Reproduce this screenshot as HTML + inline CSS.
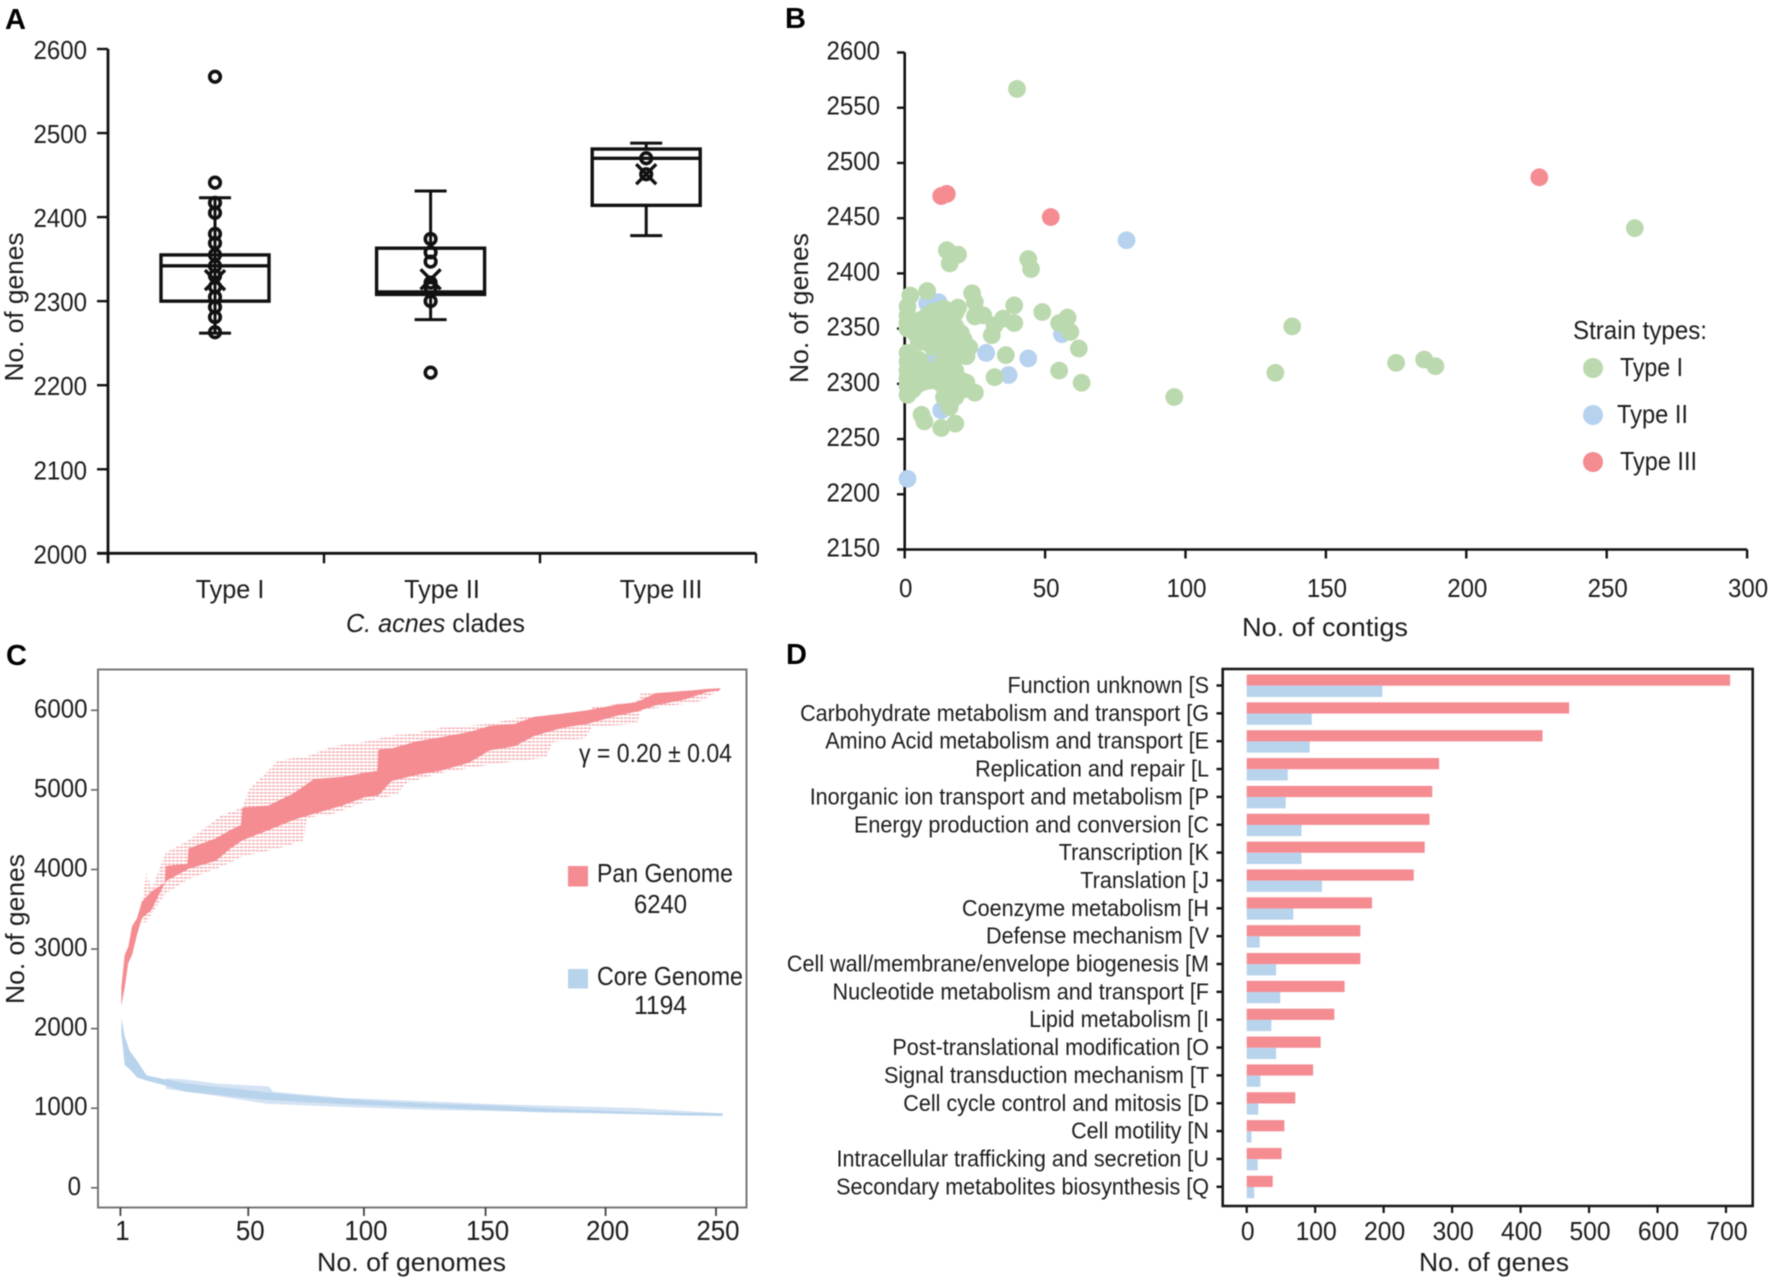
<!DOCTYPE html>
<html lang="en">
<head>
<meta charset="utf-8">
<title>C. acnes pan-genome figure</title>
<style>
html,body{margin:0;padding:0;background:#fff;width:1772px;height:1281px;overflow:hidden}
svg{display:block;font-family:"Liberation Sans",sans-serif;fill:#1c1c1c;filter:blur(0.4px)}
.t{font-size:26px}
.b{font-size:29px;font-weight:bold;fill:#000}
</style>
</head>
<body>
<svg id="fig" xmlns="http://www.w3.org/2000/svg" width="1772" height="1281" viewBox="0 0 1772 1281">
<defs>
<pattern id="panHatch" width="4" height="3.4" patternUnits="userSpaceOnUse">
<rect x="0" y="0" width="3" height="1.3" fill="#f39ea3"></rect>
</pattern>
</defs>
<rect width="1772" height="1281" fill="#fff"></rect>

<g id="panelA">
<text class="b" x="5" y="29">A</text>
<text class="t" transform="translate(23,307) rotate(-90)" text-anchor="middle" textLength="149" lengthAdjust="spacingAndGlyphs">No. of genes</text>
<text class="t" x="346" y="632" textLength="179" lengthAdjust="spacingAndGlyphs"><tspan font-style="italic">C. acnes</tspan> clades</text>
</g>

<g id="panelB">
<text class="b" x="785" y="28">B</text>
<text class="t" transform="translate(808,308) rotate(-90)" text-anchor="middle" textLength="150" lengthAdjust="spacingAndGlyphs">No. of genes</text>
<text class="t" x="1242" y="636" textLength="166" lengthAdjust="spacingAndGlyphs">No. of contigs</text>
<text class="t" x="1573" y="339" textLength="134" lengthAdjust="spacingAndGlyphs">Strain types:</text>
<circle cx="1593" cy="368" r="10" fill="#bbd9ae"></circle>
<text class="t" x="1620" y="376" textLength="63" lengthAdjust="spacingAndGlyphs">Type I</text>
<circle cx="1593" cy="415" r="10" fill="#b6d2ee"></circle>
<text class="t" x="1617" y="423" textLength="71" lengthAdjust="spacingAndGlyphs">Type II</text>
<circle cx="1593" cy="462" r="10" fill="#f48c92"></circle>
<text class="t" x="1620" y="470" textLength="77" lengthAdjust="spacingAndGlyphs">Type III</text>
</g>

<g id="panelC">
<text class="b" x="6" y="665">C</text>
<rect x="98" y="669.5" width="648.5" height="538" fill="none" stroke="#777" stroke-width="2"></rect>
<text class="t" transform="translate(24,929) rotate(-90)" text-anchor="middle" textLength="150" lengthAdjust="spacingAndGlyphs">No. of genes</text>
<text class="t" x="317" y="1271" textLength="189" lengthAdjust="spacingAndGlyphs">No. of genomes</text>
<text class="t" x="579" y="762" textLength="153" lengthAdjust="spacingAndGlyphs">γ = 0.20 ± 0.04</text>
<rect x="568" y="866" width="20" height="20.5" fill="#f48c92"></rect>
<text class="t" x="597" y="882" textLength="136" lengthAdjust="spacingAndGlyphs">Pan Genome</text>
<text class="t" x="634" y="913" textLength="53" lengthAdjust="spacingAndGlyphs">6240</text>
<rect x="568" y="969" width="20" height="19.5" fill="#b8d3ec"></rect>
<text class="t" x="597" y="985" textLength="146" lengthAdjust="spacingAndGlyphs">Core Genome</text>
<text class="t" x="634" y="1014" textLength="53" lengthAdjust="spacingAndGlyphs">1194</text>
</g>

<g id="panelD">
<text class="b" x="786" y="664">D</text>
<text class="t" x="1419" y="1271" textLength="150" lengthAdjust="spacingAndGlyphs">No. of genes</text>
</g>
</svg>

<script>
/* Panel A: box plot */
const aCategories = ['Type I', 'Type II', 'Type III'];
const aYTicks = [2000, 2100, 2200, 2300, 2400, 2500, 2600];
const aQ1 = [2300, 2308, 2414];
const aMedian = [2342, 2311, 2470];
const aQ3 = [2355, 2363, 2481];
const aWhiskerLow = [2262, 2278, 2378];
const aWhiskerHigh = [2423, 2431, 2488];
const aMean = [2325, 2326, 2451];
const aPointsType1 = [2567, 2441, 2417, 2405, 2380, 2369, 2355, 2342, 2330, 2317, 2305, 2293, 2281, 2263];
const aPointsType2 = [2374, 2358, 2347, 2322, 2316, 2300, 2215];
const aPointsType3 = [2470, 2451];

/* Panel B: scatter (contigs, genes) */
const bXTicks = [0, 50, 100, 150, 200, 250, 300];
const bYTicks = [2150, 2200, 2250, 2300, 2350, 2400, 2450, 2500, 2550, 2600];
const bType1 = [[40,2567],[260,2441],[138,2352],[132,2310],[96,2288],[175,2319],[185,2322],[189,2316],
[15,2421],[19,2417],[16,2409],[44,2413],[45,2404],[8,2384],[2,2380],[24,2382],[25,2374],[19,2369],[39,2371],[49,2365],[58,2360],[55,2355],[59,2347],[62,2332],[28,2362],[25,2361],[35,2359],[32,2353],[39,2355],[31,2344],[36,2326],[32,2306],[55,2312],[63,2301],[25,2292],[22,2301],[6,2272],[7,2266],[13,2260],[18,2264],[16,2279],
[1,2370],[1,2362],[1,2355],[1,2350],[4,2345],[5,2338],[4,2352],[6,2358],[8,2362],[10,2365],[12,2366],[14,2368],[16,2366],[18,2364],[6,2347],[8,2350],[10,2352],[12,2355],[14,2356],[16,2354],[18,2352],[7,2338],[9,2340],[11,2342],[13,2344],[15,2346],[17,2343],[19,2345],[20,2346],[21,2340],[22,2335],[23,2333],[10,2333],[12,2335],[14,2335],[16,2333],[18,2330],[19,2325],[22,2325],[15,2325],[13,2318],
[1,2328],[1,2320],[5,2322],[6,2318],[1,2312],[1,2305],[1,2298],[1,2290],[3,2310],[3,2302],[3,2295],[5,2308],[5,2300],[7,2310],[7,2302],[9,2310],[9,2303],[11,2312],[11,2305],[13,2315],[13,2308],[13,2300],[15,2312],[15,2304],[15,2296],[17,2308],[17,2300],[17,2292],[18,2312],[19,2305],[19,2297],[21,2302],[21,2295],[14,2288],[16,2285],[18,2288]];
const bType2 = [[79,2430],[29,2328],[44,2323],[37,2308],[56,2345],[13,2276],[1,2214],[12,2374],[8,2373],[10,2322]];
const bType3 = [[13,2470],[15,2472],[52,2451],[226,2487]];

/* Panel C: rarefaction bands */
const cYTicks = [0, 1000, 2000, 3000, 4000, 5000, 6000];
const cXTickAt = [1, 54.5, 102.9, 153.8, 204, 250.2];
const cXTickLabels = ['1', '50', '100', '150', '200', '250'];
const panHighN = [1.4,2.8,4.3,5.9,8,10,14,19.5,20,29,29.5,41,47,51.5,52,63,73.5,82,94,103,108.5,109,114.5,125,135,147,155.5,166,174,186,196.5,209,217,225,237.5,246,252];
const panHigh = [2517,2928,3031,3288,3390,3596,3724,3830,4043,4070,4264,4392,4495,4560,4777,4803,4957,5137,5163,5214,5240,5507,5522,5610,5661,5728,5805,5830,5918,5959,6000,6072,6103,6216,6241,6267,6277];
const panLowN = [1.4,2.8,4.3,5.9,8,10,14,20,29.5,41,47,52,63,73.5,82,94,103,109,114.5,125,135,147,155.5,166,174,186,196.5,209,217,225,237.5,246,252];
const panLow = [2286,2517,2825,2928,3185,3390,3493,3853,4007,4110,4264,4366,4495,4623,4700,4803,4906,4932,5111,5188,5240,5342,5497,5548,5676,5779,5830,5933,5984,6062,6139,6226,6257];
const panEnvN = [10,12,14,20,29.5,43,52,55,67,77.6,79,90,104,116.6,120.7,135,155.5,168,179,182,195.5,198.5,217,219,243.6,252];
const panEnvHigh = [3596,3955,3750,4212,4366,4675,4777,5009,5368,5420,5420,5548,5610,5692,5692,5779,5830,5908,5933,5933,5984,6036,6113,6216,6257,6277];
const panEnvLow = [3339,3339,3442,3699,3878,4033,4161,4187,4264,4366,4649,4700,4855,4942,5086,5214,5317,5368,5404,5600,5651,5795,5830,6000,6113,6257];
const coreN = [1.4,2.8,4.9,8,12,20,28.5,41,53,63,77.6,94,114.5,135,155.5,176,196.5,217,237.5,253];
const coreHigh = [2132,1901,1721,1592,1413,1361,1310,1269,1233,1197,1156,1120,1079,1053,1038,1002,976,950,940,935];
const coreLow = [1952,1541,1490,1387,1346,1284,1207,1171,1130,1104,1079,1053,1027,1002,976,950,940,925,909,904];
const coreEnvN = [20,28.5,41,63,65,94,135,155.5,217,253];
const coreEnvHigh = [1377,1361,1310,1274,1207,1130,1079,1053,1002,935];
const coreEnvLow = [1243,1207,1156,1053,1053,1017,976,966,925,904];

/* Panel D: functional categories */
const dCategories = ['Function unknown [S','Carbohydrate metabolism and transport [G','Amino Acid metabolism and transport [E','Replication and repair [L','Inorganic ion transport and metabolism [P','Energy production and conversion [C','Transcription [K','Translation [J','Coenzyme metabolism [H','Defense mechanism [V','Cell wall/membrane/envelope biogenesis [M','Nucleotide metabolism and transport [F','Lipid metabolism [I','Post-translational modification [O','Signal transduction mechanism [T','Cell cycle control and mitosis [D','Cell motility [N','Intracellular trafficking and secretion [U','Secondary metabolites biosynthesis [Q'];
const dPan = [706,471,432,281,271,267,260,244,183,166,166,143,128,108,97,71,55,51,38];
const dCore = [198,95,92,60,57,80,80,110,68,19,43,49,36,43,20,17,7,16,11];
const dXTicks = [0,100,200,300,400,500,600,700];

const NS = 'http://www.w3.org/2000/svg';
function mk(tag, attrs, parent, txt) {
  const el = document.createElementNS(NS, tag);
  for (const k in attrs) el.setAttribute(k, attrs[k]);
  if (txt !== undefined) el.textContent = txt;
  parent.appendChild(el);
  return el;
}
function condense(el, k) {
  const len = el.getComputedTextLength();
  el.setAttribute('textLength', (len * k).toFixed(1));
  el.setAttribute('lengthAdjust', 'spacingAndGlyphs');
}
const gA = document.getElementById('panelA');
const gB = document.getElementById('panelB');
const gC = document.getElementById('panelC');
const gD = document.getElementById('panelD');
const INK = '#111';

/* ---------- Panel A ---------- */
const ax = i => 215 + i * 215.6;
const ay = v => 553.3 - (v - 2000) * (504.3 / 600);
const aLabelX = [230, 442, 661];
{
  const yAxis = mk('line', {x1:108, x2:108, y1:ay(2600), y2:ay(2000)+10, stroke:INK, 'stroke-width':2.8}, gA);
  
  
  const xAxis = mk('line', {x1:97, x2:756, y1:ay(2000), y2:ay(2000), stroke:INK, 'stroke-width':2.8}, gA);
  
  
  aYTicks.forEach(v => {
    const tk = mk('line', {x1:97, x2:108, y1:ay(v), y2:ay(v), stroke:INK, 'stroke-width':2.4}, gA);
    
    
    const lb = mk('text', {class:'t', x:87, y:ay(v)+10, 'text-anchor':'end'}, gA, String(v));
    
    
    condense(lb, 0.925);
  });
  aCategories.forEach((c, i) => {
    const sep = mk('line', {x1:108+(i+1)*216, x2:108+(i+1)*216, y1:ay(2000), y2:ay(2000)+10, stroke:INK, 'stroke-width':2.4}, gA);
    
    
    const lb = mk('text', {class:'t', x:aLabelX[i], y:598, 'text-anchor':'middle'}, gA, c);
    
    
    condense(lb, 0.97);
    const cx = ax(i);
    const wh = mk('line', {x1:cx, x2:cx, y1:ay(aWhiskerHigh[i]), y2:ay(aWhiskerLow[i]), stroke:INK, 'stroke-width':3}, gA);
    
    
    [aWhiskerHigh[i], aWhiskerLow[i]].forEach(v => {
      const cap = mk('line', {x1:cx-16, x2:cx+16, y1:ay(v), y2:ay(v), stroke:INK, 'stroke-width':3}, gA);
      
      
    });
    const box = mk('rect', {x:cx-54, y:ay(aQ3[i]), width:108, height:ay(aQ1[i])-ay(aQ3[i]), fill:i===0?'none':'#fff', stroke:INK, 'stroke-width':3.4}, gA);
    
    
    const med = mk('line', {x1:cx-54, x2:cx+54, y1:ay(aMedian[i]), y2:ay(aMedian[i]), stroke:INK, 'stroke-width':3.4}, gA);
    
    
    const pts = [aPointsType1, aPointsType2, aPointsType3][i];
    pts.forEach(v => {
      const p = mk('circle', {cx:cx, cy:ay(v), r:5.3, fill:'none', stroke:INK, 'stroke-width':3.6}, gA);
      
      
    });
    const my = ay(aMean[i]);
    const m = mk('path', {d:`M${cx-10} ${my-10}L${cx+10} ${my+10}M${cx+10} ${my-10}L${cx-10} ${my+10}`, fill:'none', stroke:INK, 'stroke-width':3.4}, gA);
    
    
  });
}

/* ---------- Panel B ---------- */
const bx = v => 904.7 + v * 2.808;
const by = v => 549.5 - (v - 2150) * (497 / 450);
{
  bYTicks.forEach(v => {
    const tk = mk('line', {x1:897, x2:904.7, y1:by(v), y2:by(v), stroke:INK, 'stroke-width':2.4}, gB);
    
    
    const lb = mk('text', {class:'t', x:880, y:by(v)+7, 'text-anchor':'end'}, gB, String(v));
    
    
    condense(lb, 0.925);
  });
  bXTicks.forEach(v => {
    const tk = mk('line', {x1:bx(v), x2:bx(v), y1:by(2150), y2:by(2150)+9, stroke:INK, 'stroke-width':2.4}, gB);
    
    
    const lb = mk('text', {class:'t', x:bx(v)+1, y:597, 'text-anchor':'middle'}, gB, String(v));
    
    
    condense(lb, 0.925);
  });
  const yAxis = mk('line', {x1:904.7, x2:904.7, y1:by(2600), y2:by(2150), stroke:INK, 'stroke-width':2.6}, gB);
  
  
  const xAxis = mk('line', {x1:897, x2:bx(300), y1:by(2150), y2:by(2150), stroke:INK, 'stroke-width':2.6}, gB);
  
  
  bType2.forEach(d => {
    const c = mk('circle', {cx:bx(d[0]), cy:by(d[1]), r:8.9, fill:'#b6d2ee'}, gB);
    
    
  });
  bType1.forEach(d => {
    const c = mk('circle', {cx:bx(d[0]), cy:by(d[1]), r:8.9, fill:'#bbd9ae'}, gB);
    
    
  });
  bType3.forEach(d => {
    const c = mk('circle', {cx:bx(d[0]), cy:by(d[1]), r:8.9, fill:'#f48c92'}, gB);
    
    
  });
}

/* ---------- Panel C ---------- */
const cx = n => 120.4 + (n - 1) * 2.39;
const cy = v => 1187.8 - v * (477.5 / 6000);
function bandArea(nHi, hi, nLo, lo) {
  let d = `M${cx(nHi[0])} ${cy(hi[0])}`;
  for (let i = 1; i < nHi.length; i++) d += `L${cx(nHi[i])} ${cy(hi[i])}`;
  for (let i = nLo.length - 1; i >= 0; i--) d += `L${cx(nLo[i])} ${cy(lo[i])}`;
  return d + 'Z';
}
{
  cYTicks.forEach(v => {
    const tk = mk('line', {x1:91, x2:98, y1:cy(v), y2:cy(v), stroke:'#666', 'stroke-width':1.6}, gC);
    
    
    const lb = mk('text', {class:'t', x:v === 0 ? 81 : 87.5, y:cy(v)+7, 'text-anchor':'end'}, gC, String(v));
    
    
    condense(lb, 0.925);
  });
  cXTickAt.forEach((n, i) => {
    const tk = mk('line', {x1:cx(n), x2:cx(n), y1:1207.5, y2:1216, stroke:'#444', 'stroke-width':1.8}, gC);
    
    
    const lb = mk('text', {x:cx(n)+2, y:1240, 'text-anchor':'middle', style:'font-size:28px'}, gC, cXTickLabels[i]);
    
    
    condense(lb, 0.925);
  });
  const pe = mk('path', {d:bandArea(panEnvN, panEnvHigh, panEnvN, panEnvLow), fill:'url(#panHatch)'}, gC);
  
  
  const pb = mk('path', {d:bandArea(panHighN, panHigh, panLowN, panLow), fill:'#f48c92'}, gC);
  
  
  const ce = mk('path', {d:bandArea(coreEnvN, coreEnvHigh, coreEnvN, coreEnvLow), fill:'#d4e3f4'}, gC);
  
  
  const cb = mk('path', {d:bandArea(coreN, coreHigh, coreN, coreLow), fill:'#b8d3ec'}, gC);
  
  
}

/* ---------- Panel D ---------- */
const dx = v => 1246.7 + v * 0.6847;
const dy = i => 685.5 + i * 27.85;
{
  dCategories.forEach((c, i) => {
    const tk = mk('line', {x1:1216.5, x2:1222, y1:dy(i), y2:dy(i), stroke:INK, 'stroke-width':2.4}, gD);
    
    
    const lb = mk('text', {x:1209, y:dy(i)+7.5, 'text-anchor':'end', style:'font-size:23px'}, gD, c);
    
    
    condense(lb, 0.938);
    const pan = mk('rect', {x:dx(0), y:dy(i)-11, width:dx(dPan[i])-dx(0), height:11.2, fill:'#f48c92'}, gD);
    
    
    const core = mk('rect', {x:dx(0), y:dy(i)+0.2, width:dx(dCore[i])-dx(0), height:11.2, fill:'#b8d3ec'}, gD);
    
    
  });
  dXTicks.forEach(v => {
    const tk = mk('line', {x1:dx(v), x2:dx(v), y1:1206, y2:1213, stroke:INK, 'stroke-width':2.2}, gD);
    
    
    const lb = mk('text', {class:'t', x:dx(v)+1, y:1240, 'text-anchor':'middle'}, gD, String(v));
    
    
    condense(lb, 0.95);
  });
  const frame = mk('rect', {x:1222.7, y:669, width:530, height:537, fill:'none', stroke:'#1a1a1a', 'stroke-width':2.6}, gD);
  
  
}
</script>
</body>
</html>
